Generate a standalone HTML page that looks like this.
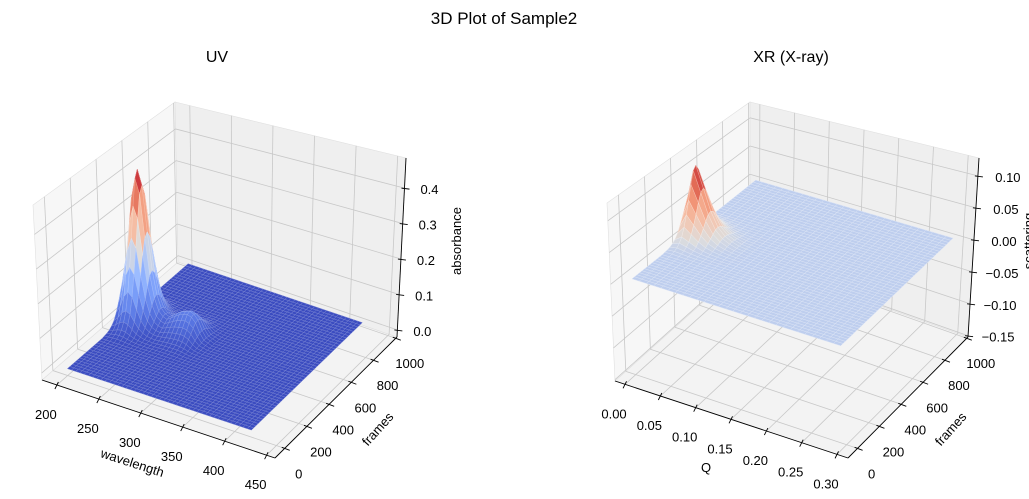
<!DOCTYPE html>
<html><head><meta charset="utf-8"><style>
html,body{margin:0;padding:0;background:#fff;}
svg{display:block;font-family:"Liberation Sans","DejaVu Sans",sans-serif;}
</style></head><body>
<svg id="fig" width="1029" height="499" viewBox="0 0 1029 499">
<text x="504" y="24" font-size="17" text-anchor="middle" fill="#000">3D Plot of Sample2</text>
<text x="217" y="62" font-size="16" text-anchor="middle" fill="#000">UV</text>
<text x="791" y="62" font-size="16" text-anchor="middle" fill="#000">XR (X-ray)</text>
<g id="uv"></g>
<g id="xr"></g>
</svg>
<script>
// ---- UV data ----
const uvWavelengths = [200,205,210,215,220,225,230,235,240,245,250,255,260,265,270,275,280,285,290,295,300,305,310,315,320,325,330,335,340,345,350,355,360,365,370,375,380,385,390,395,400,405,410,415,420];
const uvSpectrum = [0.35,0.55,0.85,1.0,0.9,0.6,0.35,0.2,0.12,0.09,0.08,0.1,0.12,0.14,0.15,0.16,0.15,0.12,0.06,0.02,0.01,0,0,0,0,0,0,0,0,0,0,0,0,0,0,0,0,0,0,0,0,0,0,0,0];
const uvFrames = [0,20,40,60,80,100,120,140,160,180,200,220,240,260,280,300,320,340,360,380,400,420,440,460,480,500,520,540,560,580,600,620,640,660,680,700,720,740,760,780,800,820,840,860,880,900,920,940,960,980];
const uvElution = [0,0,0,0,0,0,0,0,0,0,0,0,0,0,0,0.01,0.02,0.04,0.08,0.14,0.25,0.4,0.58,0.78,0.95,1.0,0.92,0.75,0.55,0.36,0.22,0.12,0.06,0.03,0.01,0,0,0,0,0,0,0,0,0,0,0,0,0,0,0];
const uvPeak = 0.45;
const uvXTicks = [200,250,300,350,400,450];
const uvYTicks = [0,200,400,600,800,1000];
const uvZTicks = [0.0,0.1,0.2,0.3,0.4];
// ---- XR data ----
const xrQ = [0,0.01,0.02,0.03,0.04,0.05,0.06,0.07,0.08,0.09,0.10,0.11,0.12,0.13,0.14,0.15,0.16,0.17,0.18,0.19,0.20,0.21,0.22,0.23,0.24,0.25,0.26,0.27,0.28,0.29];
const xrIntensity = [0.5,1.0,0.7,0.4,0.2,0.1,0.05,0.02,0.01,0,0,0,0,0,0,0,0,0,0,0,0,0,0,0,0,0,0,0,0,0];
const xrFrames = uvFrames;
const xrElution = [0,0,0,0,0,0,0,0,0,0,0,0,0,0.01,0.02,0.04,0.08,0.14,0.25,0.4,0.58,0.78,0.95,1.0,0.92,0.75,0.55,0.36,0.22,0.12,0.06,0.03,0.01,0,0,0,0,0,0,0,0,0,0,0,0,0,0,0,0,0];
const xrPeak = 0.115;
const xrXTicks = [0.00,0.05,0.10,0.15,0.20,0.25,0.30];
const xrYTicks = [0,200,400,600,800,1000];
const xrZTicks = [-0.15,-0.10,-0.05,0.00,0.05,0.10];

const NS='http://www.w3.org/2000/svg';
function mk(parent,tag,attrs){const e=document.createElementNS(NS,tag);for(const k in attrs)e.setAttribute(k,attrs[k]);parent.appendChild(e);return e;}
const cmStops=[[0,[59,76,192]],[0.125,[89,119,227]],[0.25,[123,159,249]],[0.375,[158,190,255]],[0.5,[221,221,221]],[0.625,[245,196,172]],[0.75,[243,154,123]],[0.875,[222,96,77]],[1,[180,4,38]]];
function cmap(t){t=Math.max(0,Math.min(1,t));for(let i=1;i<cmStops.length;i++){if(t<=cmStops[i][0]){const a=cmStops[i-1],b=cmStops[i];const f=(t-a[0])/(b[0]-a[0]);return a[1].map((c,j)=>Math.round(c+(b[1][j]-c)*f));}}return cmStops[cmStops.length-1][1];}

function panel(g,cfg){
  const C=cfg.C;
  const P=(u,v,w)=>{const r=[0,0];
    for(const cu of [0,1])for(const cv of [0,1])for(const cw of [0,1]){
      const wt=(cu?u:1-u)*(cv?v:1-v)*(cw?w:1-w);const p=C[''+cu+cv+cw];r[0]+=wt*p[0];r[1]+=wt*p[1];}
    return [+r[0].toFixed(2),+r[1].toFixed(2)];};
  const pts=a=>a.map(p=>p.join(',')).join(' ');
  const uOf=cfg.uOf, vOf=f=>0.08+f*0.00091, wOf=z=>(z-cfg.zmin)/(cfg.zmax-cfg.zmin);
  let e=mk(g,'polygon',{points:pts([P(0,0,0),P(1,0,0),P(1,1,0),P(0,1,0)]),fill:'#f3f3f3',stroke:'#e0e0e0','stroke-width':0.6});
  
  e=mk(g,'polygon',{points:pts([P(0,0,0),P(0,1,0),P(0,1,1),P(0,0,1)]),fill:'#f7f7f7',stroke:'#e0e0e0','stroke-width':0.6});
  
  e=mk(g,'polygon',{points:pts([P(0,1,0),P(1,1,0),P(1,1,1),P(0,1,1)]),fill:'#efefef',stroke:'#e0e0e0','stroke-width':0.6});
  
  const grid=mk(g,'g',{stroke:'#c8c8c8','stroke-width':0.8,fill:'none'});
  
  const line=(a,b)=>mk(grid,'line',{x1:a[0],y1:a[1],x2:b[0],y2:b[1]});
  cfg.xt.forEach(t=>{const u=uOf(t);line(P(u,0,0),P(u,1,0));line(P(u,1,0),P(u,1,1));});
  cfg.yt.forEach(t=>{const v=vOf(t);line(P(0,v,0),P(1,v,0));line(P(0,v,0),P(0,v,1));});
  cfg.zt.forEach(t=>{const w=wOf(t);line(P(0,0,w),P(0,1,w));line(P(0,1,w),P(1,1,w));});
  const surf=mk(g,'g',{});
  
  const xs=cfg.xs, fs=cfg.fs;
  const Z=(i,j)=>cfg.peak*cfg.spec[i]*cfg.elu[j];
  const cells=[];
  for(let i=0;i<xs.length-1;i++)for(let j=0;j<fs.length-1;j++){
    const u0=uOf(xs[i]),u1=uOf(xs[i+1]),v0=vOf(fs[j]),v1=vOf(fs[j+1]);
    const z00=Z(i,j),z10=Z(i+1,j),z11=Z(i+1,j+1),z01=Z(i,j+1);
    const zm=(z00+z10+z11+z01)/4;
    cells.push({d:0.5*(u0+u1)/2-0.866*(v0+v1)/2,u0,u1,v0,v1,z00,z10,z11,z01,zm});
  }
  cells.sort((a,b)=>a.d-b.d);
  cells.forEach(c=>{
    const col=cmap((c.zm-cfg.cmin)/(cfg.cmax-cfg.cmin));
    const lc=col.map(x=>Math.round(x+(255-x)*cfg.edge));
    const p=mk(surf,'polygon',{points:pts([P(c.u0,c.v0,wOf(c.z00)),P(c.u1,c.v0,wOf(c.z10)),P(c.u1,c.v1,wOf(c.z11)),P(c.u0,c.v1,wOf(c.z01))]),fill:'rgb('+col+')',stroke:'rgb('+lc+')','stroke-width':0.5});
    
    
  });
  const ax=mk(g,'g',{stroke:'#000','stroke-width':0.9,fill:'none'});
  
  const al=(a,b)=>mk(ax,'line',{x1:a[0],y1:a[1],x2:b[0],y2:b[1]});
  al(P(0,0,0),P(1,0,0));al(P(1,0,0),P(1,1,0));al(P(1,1,0),P(1,1,1));
  const lab=mk(g,'g',{'font-size':13,fill:'#000'});
  
  cfg.xt.forEach((t,k)=>{const a=P(uOf(t),0,0);al([a[0]+1.5,a[1]-3],[a[0]-2,a[1]+4]);
    const tx=mk(lab,'text',{x:a[0]-11,y:a[1]+34,'text-anchor':'middle'});tx.textContent=cfg.xl[k];
    });
  cfg.yt.forEach(t=>{const a=P(1,vOf(t),0);al([a[0]-3,a[1]-1],[a[0]+5,a[1]+2]);
    const tx=mk(lab,'text',{x:a[0]+14,y:a[1]+30,'text-anchor':'middle'});tx.textContent=t;
    });
  cfg.zt.forEach((t,k)=>{const a=P(1,1,wOf(t));al([a[0]-3,a[1]],[a[0]+5,a[1]+1]);
    const tx=mk(lab,'text',{x:a[0]+cfg.zlx,y:a[1]+6,'text-anchor':'middle'});tx.textContent=cfg.zl[k];
    });
  const t1=mk(g,'text',{x:cfg.xlab[0],y:cfg.xlab[1],'font-size':13,'text-anchor':'middle',transform:'rotate('+cfg.xlab[2]+' '+cfg.xlab[0]+' '+cfg.xlab[1]+')'});t1.textContent=cfg.xname;
  
  const t2=mk(g,'text',{x:cfg.ylab[0],y:cfg.ylab[1],'font-size':13,'text-anchor':'middle',transform:'rotate(-48 '+cfg.ylab[0]+' '+cfg.ylab[1]+')'});t2.textContent='frames';
  
  const t3=mk(g,'text',{x:cfg.zlab[0],y:cfg.zlab[1],'font-size':13,'text-anchor':'middle',transform:'rotate(-90 '+cfg.zlab[0]+' '+cfg.zlab[1]+')'});t3.textContent=cfg.zname;
  
}
panel(document.getElementById('uv'),{
  C:{'000':[42,380],'100':[275,458],'110':[397,337],'010':[178,262],'001':[33,205],'101':[277,280],'111':[406,158],'011':[175,102]},
  uOf:w=>0.064+(w-200)*0.0036,zmin:-0.02,zmax:0.485,
  xs:uvWavelengths,fs:uvFrames,spec:uvSpectrum,elu:uvElution,peak:uvPeak,cmin:0,cmax:0.45,edge:0.3,
  xt:uvXTicks,xl:uvXTicks.map(String),yt:uvYTicks,zt:uvZTicks,zl:uvZTicks.map(v=>v.toFixed(1)),zlx:25,
  xname:'wavelength',xlab:[131,467,18],ylab:[381,432],zname:'absorbance',zlab:[461,241]});
panel(document.getElementById('xr'),{
  C:{'000':[615,381],'100':[848,458],'110':[968,337],'010':[750,260],'001':[607,203],'101':[850,280],'111':[979,158],'011':[750,102]},
  uOf:q=>0.043+q*3.033,zmin:-0.152,zmax:0.128,
  xs:xrQ,fs:xrFrames,spec:xrIntensity,elu:xrElution,peak:xrPeak,cmin:-0.09,cmax:0.115,edge:0.45,
  xt:xrXTicks,xl:xrXTicks.map(v=>v.toFixed(2)),yt:xrYTicks,zt:xrZTicks,zl:xrZTicks.map(v=>(v<0?'\u2212':'')+Math.abs(v).toFixed(2)),zlx:30,
  xname:'Q',xlab:[706,472,0],ylab:[954,432],zname:'scattering',zlab:[1033,241]});
</script>
</body></html>
